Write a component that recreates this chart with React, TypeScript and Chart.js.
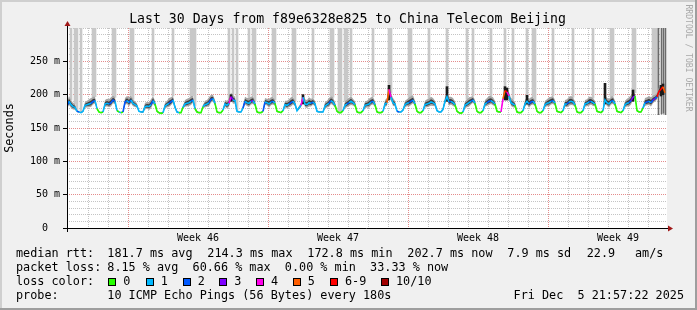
import React, { useEffect, useRef } from 'react';
import { Chart, registerables } from 'chart.js';

Chart.register(...registerables);

const MONO = '"DejaVu Sans Mono", monospace';

// ---------- text ----------
const titleText = 'Last 30 Days from f89e6328e825 to China Telecom Beijing';
const yAxisTitle = 'Seconds';
const watermark = 'RRDTOOL / TOBI OETIKER';

const rttLabel = 'median rtt:';
const rttStats = ['181.7 ms avg', '214.3 ms max', '172.8 ms min', '202.7 ms now', '7.9 ms sd'];
const amsValue = '22.9';
const amsUnit = 'am/s';
const lossLabel = 'packet loss:';
const lossStats = '8.15 % avg  60.66 % max  0.00 % min  33.33 % now';
const lossColorLabel = 'loss color:';
const probeLabel = 'probe:';
const probeText = '10 ICMP Echo Pings (56 Bytes) every 180s';
const stampText = 'Fri Dec  5 21:57:22 2025';

// ---------- loss colour classes ----------
const lossColors = ['#26ff00', '#00b8ff', '#0059ff', '#7e00ff', '#ff00ea', '#ff5e00', '#ff0000', '#a10000'];
const lossNames = ['0', '1', '2', '3', '4', '5', '6-9', '10/10'];

// ---------- x axis (1 unit = 1/10 day) ----------
const weekLabels = ['Week 46', 'Week 47', 'Week 48', 'Week 49'];
const weekCenters = [65.5, 135.5, 205.5, 275.5];
const weekStarts = [30.5, 100.5, 170.5, 240.5];
const dayLines = [10.5, 20.5, 30.5, 40.5, 50.5, 60.5, 70.5, 80.5, 90.5, 100.5, 110.5, 120.5, 130.5, 140.5, 150.5,
  160.5, 170.5, 180.5, 190.5, 200.5, 210.5, 220.5, 230.5, 240.5, 250.5, 260.5, 270.5, 280.5, 290.5];

// ---------- median rtt (ms), one row per day ----------
const medianRtt = [
  183, 190, 185, 182, 181, 175, 174, 173, 175, 184,
  185, 186, 187, 190, 191, 179, 174, 173, 174, 186,
  187, 186, 188, 192, 190, 176, 174, 173, 174, 189,
  191, 188, 192, 187, 185, 183, 175, 174, 174, 182,
  183, 182, 185, 191, 186, 175, 173, 172, 173, 183,
  185, 187, 189, 192, 181, 174, 173, 173, 181, 186,
  187, 188, 190, 192, 179, 174, 173, 173, 182, 185,
  186, 188, 193, 194, 187, 174, 173, 173, 177, 186,
  184, 187, 197, 192, 191, 175, 174, 174, 180, 190,
  188, 187, 190, 191, 186, 174, 173, 173, 175, 189,
  188, 186, 189, 190, 187, 175, 174, 173, 176, 185,
  184, 186, 188, 190, 186, 176, 180, 184, 196, 186,
  185, 188, 187, 189, 186, 175, 174, 174, 174, 183,
  185, 187, 191, 189, 184, 175, 173, 173, 176, 184,
  186, 188, 190, 188, 185, 174, 173, 173, 176, 184,
  185, 186, 189, 190, 185, 174, 173, 173, 175, 186,
  188, 208, 196, 188, 186, 175, 174, 174, 177, 185,
  187, 188, 190, 192, 186, 175, 173, 173, 176, 185,
  186, 187, 189, 188, 186, 176, 174, 174, 178, 190,
  197, 189, 190, 188, 185, 175, 173, 172, 174, 184,
  186, 188, 190, 192, 187, 175, 173, 173, 176, 186,
  188, 190, 191, 189, 186, 175, 174, 174, 194, 206,
  204, 198, 188, 186, 184, 174, 173, 173, 176, 186,
  190, 186, 189, 190, 186, 175, 173, 173, 176, 185,
  187, 188, 190, 191, 187, 175, 174, 173, 176, 186,
  186, 189, 190, 189, 185, 174, 173, 173, 176, 186,
  187, 189, 190, 188, 186, 175, 174, 173, 176, 192,
  188, 186, 190, 191, 186, 175, 174, 173, 176, 185,
  187, 188, 191, 196, 198, 176, 174, 174, 180, 188,
  189, 190, 188, 192, 194, 197, 205, 208, 212, 203,
];

// ---------- lost pings per sample (colour class) ----------
const lossClass = [
  1, 2, 1, 1, 1, 1, 2, 1, 1, 1,
  1, 1, 1, 2, 2, 1, 0, 0, 0, 1,
  1, 1, 2, 2, 2, 1, 0, 1, 0, 2,
  2, 1, 2, 1, 1, 1, 1, 1, 1, 1,
  1, 1, 1, 2, 1, 0, 0, 0, 0, 1,
  1, 1, 2, 2, 1, 1, 1, 0, 0, 1,
  1, 1, 1, 2, 1, 0, 0, 0, 0, 1,
  1, 1, 2, 2, 1, 0, 0, 0, 0, 1,
  1, 1, 4, 3, 1, 1, 1, 1, 1, 2,
  1, 1, 1, 3, 1, 0, 0, 0, 0, 2,
  1, 1, 1, 2, 1, 0, 0, 0, 0, 1,
  1, 1, 2, 2, 1, 1, 1, 1, 4, 1,
  1, 1, 1, 2, 1, 1, 1, 1, 1, 1,
  1, 1, 2, 1, 1, 0, 0, 0, 0, 1,
  1, 2, 1, 1, 1, 0, 0, 0, 0, 1,
  1, 1, 1, 2, 1, 0, 0, 0, 0, 1,
  1, 5, 4, 1, 1, 1, 2, 1, 1, 1,
  1, 1, 2, 2, 1, 0, 0, 0, 0, 1,
  1, 1, 1, 1, 1, 1, 1, 1, 1, 1,
  1, 1, 2, 1, 1, 0, 0, 0, 0, 1,
  1, 1, 1, 2, 1, 0, 0, 0, 0, 1,
  1, 2, 2, 1, 1, 0, 0, 0, 4, 5,
  6, 4, 1, 1, 1, 0, 0, 0, 0, 1,
  1, 1, 2, 2, 1, 0, 0, 0, 0, 1,
  1, 1, 1, 2, 1, 0, 0, 0, 0, 1,
  1, 2, 1, 1, 1, 0, 0, 0, 0, 1,
  1, 1, 2, 1, 1, 0, 0, 0, 0, 1,
  1, 1, 1, 2, 1, 0, 0, 0, 0, 1,
  1, 1, 2, 3, 3, 0, 0, 0, 0, 1,
  2, 2, 1, 2, 3, 2, 6, 6, 6, 5,
];

// ---------- smoke spread around the median (ms) ----------
const smokeSpread = [
  6, 8, 7, 6, 5, 2, 1, 1, 2, 5,
  6, 7, 8, 7, 6, 3, 1, 1, 2, 6,
  7, 7, 8, 7, 6, 2, 1, 1, 2, 6,
  7, 8, 7, 6, 5, 4, 1, 1, 2, 6,
  6, 7, 8, 7, 5, 2, 1, 1, 2, 5,
  6, 8, 7, 6, 4, 2, 1, 1, 3, 6,
  7, 7, 8, 6, 4, 2, 1, 1, 3, 6,
  6, 8, 7, 6, 5, 2, 1, 1, 2, 6,
  7, 8, 6, 8, 6, 2, 1, 1, 3, 7,
  7, 8, 7, 7, 5, 2, 1, 1, 2, 6,
  6, 8, 7, 7, 5, 2, 1, 1, 2, 6,
  7, 7, 8, 7, 5, 2, 3, 4, 5, 7,
  7, 8, 7, 6, 5, 2, 1, 1, 1, 6,
  6, 8, 7, 7, 5, 2, 1, 1, 2, 6,
  7, 7, 8, 6, 5, 2, 1, 1, 2, 6,
  6, 8, 7, 7, 5, 2, 1, 1, 2, 6,
  7, 6, 6, 7, 5, 2, 1, 1, 2, 6,
  6, 8, 8, 7, 5, 2, 1, 1, 2, 6,
  7, 7, 8, 7, 5, 2, 1, 1, 3, 6,
  6, 8, 7, 7, 5, 2, 1, 1, 2, 6,
  7, 8, 7, 6, 5, 2, 1, 1, 2, 6,
  7, 8, 7, 7, 5, 2, 1, 1, 4, 6,
  5, 6, 7, 7, 5, 2, 1, 1, 2, 6,
  7, 8, 7, 7, 5, 2, 1, 1, 2, 6,
  6, 8, 7, 7, 5, 2, 1, 1, 2, 6,
  7, 8, 8, 7, 5, 2, 1, 1, 2, 6,
  6, 8, 7, 7, 5, 2, 1, 1, 3, 7,
  7, 8, 7, 7, 5, 2, 1, 1, 2, 6,
  7, 8, 8, 6, 5, 2, 1, 1, 3, 7,
  7, 8, 8, 7, 6, 6, 6, 6, 5, 6,
];

// samples where some pings were far above the graph (light grey columns)
const highPingSamples = [2, 4, 5, 7, 13, 14, 23, 24, 32, 33, 43, 53, 62, 63, 64, 81, 83, 85, 91, 93, 94, 103, 104,
  113, 114, 123, 132, 133, 136, 137, 139, 140, 142, 153, 161, 162, 171, 172, 181, 190, 200, 203, 212, 219, 223,
  230, 233, 234, 243, 253, 263, 272, 273, 283, 284, 293, 294, 295];
// thin dark grey columns at the very end (time position, lowest ping)
const darkTimes = [295.75, 297.25, 298.25, 299.25];
const darkLow = [170, 171, 172, 170];
// dense smoke spikes
const spikeSamples = [82, 118, 161, 190, 219, 220, 230, 269, 283, 297, 298];
const spikeLow = [190, 186, 192, 190, 192, 192, 186, 186, 190, 198, 200];
const spikeHigh = [200, 200, 214, 212, 212, 210, 199, 217, 207, 214, 216];

// ---------- layout (pixels) ----------
const L = {
  legendX: 16,
  valueX: 107.3,
  rttX: [107.3, 207.3, 307.3, 407.3, 507.3],
  amsValueX: 586.7,
  amsUnitX: 635,
  rows: [254, 268, 282, 296],
  boxX: [108.3, 145.7, 182.7, 219.3, 256, 292.7, 330, 381],
  stampRight: 684,
};

const near = (a: number, list: number[]) => list.some((v) => Math.abs(v - a) < 0.01);

const rrdPlugin = {
  id: 'rrd',
  beforeDraw(chart: any) {
    const { ctx, chartArea: a, width, height } = chart;
    ctx.save();
    ctx.fillStyle = '#f0f0f0';
    ctx.fillRect(0, 0, width, height);
    ctx.fillStyle = '#cfcfcf';
    ctx.fillRect(0, 0, width, 2);
    ctx.fillRect(0, 0, 2, height);
    ctx.fillStyle = '#9e9e9e';
    ctx.fillRect(0, height - 2, width, 2);
    ctx.fillRect(width - 2, 0, 2, height);
    ctx.fillStyle = '#ffffff';
    ctx.fillRect(a.left, a.top, a.right - a.left, a.bottom - a.top);
    ctx.restore();
  },
  afterDraw(chart: any) {
    const { ctx, chartArea: a } = chart;
    ctx.save();
    // axes
    ctx.strokeStyle = '#000';
    ctx.lineWidth = 1;
    ctx.beginPath();
    ctx.moveTo(a.left + 0.5, a.bottom + 4);
    ctx.lineTo(a.left + 0.5, a.top - 4);
    ctx.moveTo(a.left - 4, a.bottom + 0.5);
    ctx.lineTo(a.right + 3, a.bottom + 0.5);
    ctx.stroke();
    ctx.fillStyle = '#a01818';
    ctx.beginPath();
    ctx.moveTo(a.left - 2.5, a.top - 2);
    ctx.lineTo(a.left + 3.5, a.top - 2);
    ctx.lineTo(a.left + 0.5, a.top - 7);
    ctx.closePath();
    ctx.fill();
    ctx.beginPath();
    ctx.moveTo(a.right + 1, a.bottom - 2.5);
    ctx.lineTo(a.right + 1, a.bottom + 3.5);
    ctx.lineTo(a.right + 6, a.bottom + 0.5);
    ctx.closePath();
    ctx.fill();

    // title
    ctx.fillStyle = '#000';
    ctx.font = `13.2px ${MONO}`;
    ctx.textAlign = 'center';
    ctx.textBaseline = 'alphabetic';
    ctx.fillText(titleText, 347.5, 23);

    // watermark
    ctx.save();
    ctx.translate(688, 58);
    ctx.rotate(Math.PI / 2);
    ctx.fillStyle = '#a8a8a8';
    ctx.font = `8.1px ${MONO}`;
    ctx.textAlign = 'center';
    ctx.textBaseline = 'middle';
    ctx.fillText(watermark, 0, 0);
    ctx.restore();

    // legend
    ctx.fillStyle = '#000';
    ctx.font = `11.8px ${MONO}`;
    ctx.textAlign = 'left';
    ctx.textBaseline = 'middle';
    const [r1, r2, r3, r4] = L.rows;
    ctx.fillText(rttLabel, L.legendX, r1);
    rttStats.forEach((s, i) => ctx.fillText(s, L.rttX[i], r1));
    ctx.fillText(amsValue, L.amsValueX, r1);
    ctx.fillText(amsUnit, L.amsUnitX, r1);
    ctx.fillText(lossLabel, L.legendX, r2);
    ctx.fillText(lossStats, L.valueX, r2);
    ctx.fillText(lossColorLabel, L.legendX, r3);
    lossNames.forEach((name, i) => {
      const x = Math.round(L.boxX[i]);
      ctx.fillStyle = lossColors[i];
      ctx.fillRect(x, r3 - 4, 8, 8);
      ctx.strokeStyle = '#000';
      ctx.strokeRect(x + 0.5, r3 - 3.5, 7, 7);
      ctx.fillStyle = '#000';
      ctx.fillText(name, L.boxX[i] + 15, r3);
    });
    ctx.fillText(probeLabel, L.legendX, r4);
    ctx.fillText(probeText, L.valueX, r4);
    ctx.textAlign = 'right';
    ctx.fillText(stampText, L.stampRight, r4);
    ctx.restore();
  },
};

export default function App() {
  const ref = useRef<HTMLCanvasElement>(null);

  useEffect(() => {
    document.body.style.margin = '0';
    const pts = (arr: number[]) => arr.map((v, i) => ({ x: i, y: v }));
    const outerHi = medianRtt.map((v, i) => v + smokeSpread[i]);
    const outerLo = medianRtt.map((v, i) => v - smokeSpread[i] * 0.7);
    const innerHi = medianRtt.map((v, i) => v + smokeSpread[i] * 0.5);
    const innerLo = medianRtt.map((v, i) => v - smokeSpread[i] * 0.35);

    const chart = new Chart(ref.current!, {
      type: 'line',
      data: {
        datasets: [
          {
            type: 'bar',
            order: 9,
            data: highPingSamples.map((i) => ({ x: i, y: [medianRtt[i] + smokeSpread[i], 320] })),
            backgroundColor: '#c8c8c8',
            barThickness: 2,
            grouped: false,
            borderWidth: 0,
          } as any,
          {
            type: 'bar',
            order: 8,
            data: darkTimes.map((t, k) => ({ x: t, y: [darkLow[k], 320] })),
            backgroundColor: '#6a6a6a',
            barThickness: 1,
            grouped: false,
            borderWidth: 0,
          } as any,
          {
            order: 7,
            data: pts(outerHi),
            borderWidth: 0,
            pointRadius: 0,
            tension: 0,
            fill: '+1',
            backgroundColor: '#a6a6a6',
          },
          {
            order: 6,
            data: pts(outerLo),
            borderWidth: 0,
            pointRadius: 0,
            tension: 0,
            fill: false,
          },
          {
            order: 5,
            data: pts(innerHi),
            borderWidth: 0,
            pointRadius: 0,
            tension: 0,
            fill: '+1',
            backgroundColor: '#3c3c3c',
          },
          {
            order: 4,
            data: pts(innerLo),
            borderWidth: 0,
            pointRadius: 0,
            tension: 0,
            fill: false,
          },
          {
            type: 'bar',
            order: 3,
            data: spikeSamples.map((i, k) => ({ x: i, y: [spikeLow[k], spikeHigh[k]] })),
            backgroundColor: '#1a1a1a',
            barThickness: 2,
            grouped: false,
            borderWidth: 0,
          } as any,
          {
            order: 1,
            data: pts(medianRtt),
            borderWidth: 1.6,
            pointRadius: 0,
            tension: 0,
            fill: false,
            borderColor: lossColors[1],
            segment: {
              borderColor: (c: any) => lossColors[lossClass[c.p1DataIndex]],
            },
          },
        ],
      },
      options: {
        responsive: false,
        animation: false,
        devicePixelRatio: 1,
        events: [],
        layout: { padding: { left: 0, right: 30, top: 28, bottom: 0 } },
        plugins: {
          legend: { display: false },
          tooltip: { enabled: false },
          title: { display: false },
        },
        scales: {
          x: {
            type: 'linear',
            min: 0,
            max: 300,
            offset: false,
            afterFit: (s: any) => {
              s.height = 82;
            },
            afterBuildTicks: (s: any) => {
              s.ticks = [...dayLines, ...weekCenters].sort((p, q) => p - q).map((v) => ({ value: v }));
            },
            grid: {
              offset: false,
              drawTicks: false,
              lineWidth: 1,
              color: (c: any) => {
                const v = c.tick ? c.tick.value : 0;
                if (near(v, weekCenters)) return 'rgba(0,0,0,0)';
                if (near(v, weekStarts)) return '#e48c8c';
                return '#c4c4c4';
              },
            },
            border: { display: false, dash: [1, 1] },
            ticks: {
              autoSkip: false,
              maxRotation: 0,
              minRotation: 0,
              padding: 4,
              color: '#000',
              font: { family: MONO, size: 10 },
              callback: (v: any) => {
                const idx = weekCenters.findIndex((w) => Math.abs(w - Number(v)) < 0.01);
                return idx >= 0 ? weekLabels[idx] : '';
              },
            },
          },
          y: {
            type: 'linear',
            min: 0,
            max: 300,
            afterFit: (s: any) => {
              s.width = 67;
            },
            grid: {
              drawTicks: true,
              tickLength: 4,
              lineWidth: 1,
              color: (c: any) => {
                const v = c.tick ? c.tick.value : 0;
                if (v === 0) return 'rgba(0,0,0,0)';
                if (v % 50 === 0 && v < 300) return '#e48c8c';
                return '#c4c4c4';
              },
              tickColor: (c: any) => {
                const v = c.tick ? c.tick.value : 0;
                return v % 50 === 0 && v < 300 ? '#000' : 'rgba(0,0,0,0)';
              },
            },
            border: { display: false, dash: [1, 1] },
            ticks: {
              stepSize: 10,
              autoSkip: false,
              padding: 3,
              color: '#000',
              font: { family: MONO, size: 10 },
              callback: (v: any) => {
                const n = Number(v);
                if (n % 50 !== 0 || n >= 300) return '';
                return n === 0 ? '0  ' : `${n} m`;
              },
            },
            title: {
              display: true,
              text: yAxisTitle,
              color: '#000',
              font: { family: MONO, size: 11.8 },
              padding: { top: 3, bottom: 0 },
            },
          },
        },
      } as any,
      plugins: [rrdPlugin],
    });
    return () => chart.destroy();
  }, []);

  return (
    <div style={{ width: 697, height: 310 }}>
      <canvas ref={ref} width={697} height={310} style={{ display: 'block', width: 697, height: 310 }} />
    </div>
  );
}
